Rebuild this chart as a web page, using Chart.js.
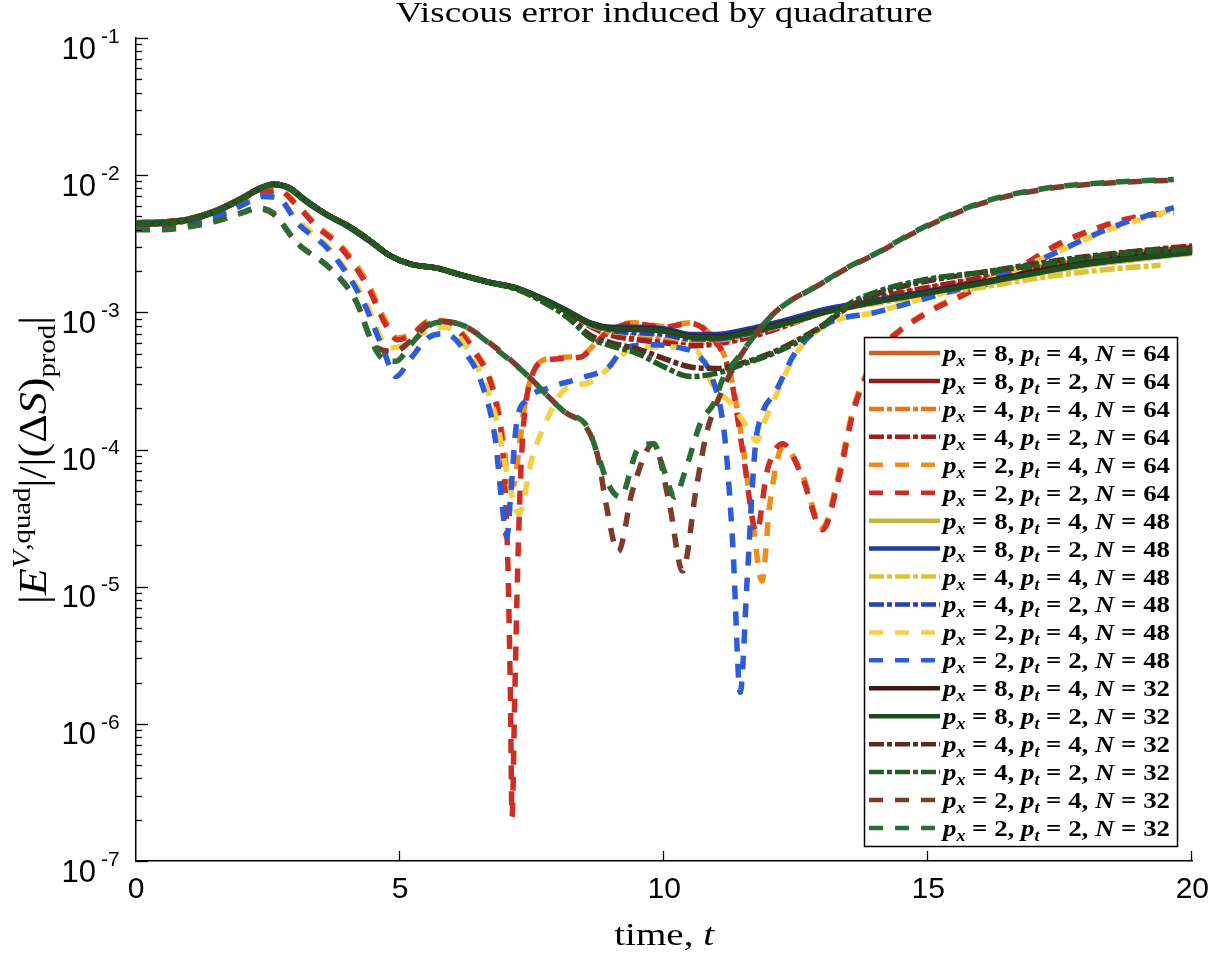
<!DOCTYPE html>
<html>
<head>
<meta charset="utf-8">
<script src="https://cdn.jsdelivr.net/npm/chart.js@4.4.0/dist/chart.umd.min.js"></script>
<style>
  html,body{margin:0;padding:0;background:#fff}
  #wrap{width:1220px;height:953px}
</style>
</head>
<body>
<div id="wrap"><canvas id="c" width="1220" height="953"></canvas></div>
<script>
// time grid shared by the curves that stay close together
const tBand      = [0,0.5,1,1.5,2,2.3,2.6,2.9,3.2,3.6,4.0,4.4,4.8,5.2,5.7,6.2,6.7,7.2,7.7,8.2,8.6,9.0,9.5,10.0,10.5,11.0,11.5,12.0,12.5,13.0,13.5,14.0,15.0,16.0,17.0,18.0,19.0,20.0];
const tBandShort = [0,0.5,1,1.5,2,2.3,2.6,2.9,3.2,3.6,4.0,4.4,4.8,5.2,5.7,6.2,6.7,7.2,7.7,8.2,8.6,9.0,9.5,10.0,10.5,11.0,11.5,12.0,12.5,13.0,13.5,14.0,15.0,16.0,17.0,18.0,18.8,19.4];

// N = 64
const v8_4_64 = [4.5e-3,4.55e-3,4.8e-3,5.5e-3,6.8e-3,7.9e-3,8.6e-3,8.1e-3,6.6e-3,5.2e-3,4.3e-3,3.4e-3,2.6e-3,2.25e-3,2.1e-3,1.85e-3,1.65e-3,1.5e-3,1.25e-3,1.0e-3,8.3e-4,7.7e-4,7.6e-4,7.4e-4,6.7e-4,6.6e-4,7.1e-4,7.9e-4,8.8e-4,1.0e-3,1.1e-3,1.2e-3,1.42e-3,1.68e-3,2.0e-3,2.35e-3,2.65e-3,2.9e-3];
const v8_2_64 = [4.5e-3,4.55e-3,4.8e-3,5.5e-3,6.8e-3,7.9e-3,8.6e-3,8.1e-3,6.6e-3,5.2e-3,4.3e-3,3.4e-3,2.6e-3,2.25e-3,2.1e-3,1.85e-3,1.65e-3,1.5e-3,1.25e-3,1.0e-3,8.2e-4,7.6e-4,7.5e-4,7.3e-4,6.6e-4,6.5e-4,7.0e-4,7.8e-4,8.7e-4,9.9e-4,1.1e-3,1.2e-3,1.43e-3,1.7e-3,2.05e-3,2.4e-3,2.7e-3,2.95e-3];
const v4_4_64 = [4.5e-3,4.55e-3,4.8e-3,5.5e-3,6.8e-3,7.9e-3,8.6e-3,8.1e-3,6.6e-3,5.2e-3,4.3e-3,3.4e-3,2.6e-3,2.25e-3,2.1e-3,1.85e-3,1.65e-3,1.5e-3,1.24e-3,9.8e-4,8.0e-4,7.0e-4,6.6e-4,6.3e-4,6.0e-4,6.1e-4,6.6e-4,7.5e-4,8.6e-4,1.0e-3,1.12e-3,1.25e-3,1.5e-3,1.75e-3,2.1e-3,2.45e-3,2.75e-3,3.0e-3];
const v4_2_64 = [4.5e-3,4.55e-3,4.8e-3,5.5e-3,6.8e-3,7.9e-3,8.6e-3,8.1e-3,6.6e-3,5.2e-3,4.3e-3,3.4e-3,2.6e-3,2.25e-3,2.1e-3,1.85e-3,1.65e-3,1.5e-3,1.23e-3,9.7e-4,7.9e-4,6.8e-4,6.3e-4,6.0e-4,5.7e-4,5.9e-4,6.4e-4,7.3e-4,8.5e-4,1.0e-3,1.13e-3,1.27e-3,1.52e-3,1.78e-3,2.12e-3,2.5e-3,2.8e-3,3.05e-3];

const t2_4_64 = [0,0.5,1,1.5,2,2.4,2.7,3.05,3.4,3.9,4.4,4.7,4.95,5.2,5.6,5.9,6.4,6.8,6.95,7.05,7.15,7.25,7.35,7.5,7.8,8.4,8.9,9.4,10.0,10.5,10.8,11.25,11.5,11.7,11.85,12.0,12.25,12.6,13.0,13.3,13.6,14.15,14.4,15.0,15.6,16.6,17.5,18.5,19.0,19.65];
const v2_4_64 = [4.25e-3,4.3e-3,4.55e-3,5.2e-3,6.4e-3,7.5e-3,7.8e-3,6.1e-3,4.4e-3,3.0e-3,1.6e-3,9e-4,6.5e-4,6.9e-4,8.8e-4,8.5e-4,5.4e-4,2.5e-4,1.2e-4,6e-5,5.5e-5,1e-4,2e-4,3.5e-4,4.6e-4,4.8e-4,7.1e-4,8.4e-4,7.9e-4,8.4e-4,7.4e-4,3.6e-4,1e-4,2.5e-5,1.1e-5,4e-5,1.05e-4,6.8e-5,2.7e-5,6.5e-5,2.1e-4,5.8e-4,7.1e-4,1.02e-3,1.32e-3,2e-3,3.1e-3,4.5e-3,5.0e-3,5.4e-3];
const t2_2_64 = [0,0.5,1,1.5,2,2.4,2.7,3.05,3.4,3.9,4.4,4.7,4.95,5.2,5.6,5.9,6.4,6.8,6.95,7.04,7.09,7.12,7.17,7.23,7.3,7.45,7.8,8.4,8.9,9.4,10.0,10.5,10.8,11.25,11.5,11.75,11.95,12.25,12.6,13.0,13.3,13.6,14.15,14.4,15.0,15.6,16.6,17.5,18.5,19.0,19.65];
const v2_2_64 = [4.2e-3,4.25e-3,4.5e-3,5.1e-3,6.3e-3,7.4e-3,7.7e-3,6.0e-3,4.3e-3,2.9e-3,1.5e-3,8.5e-4,6.3e-4,6.8e-4,8.7e-4,8.3e-4,5.2e-4,2.3e-4,9e-5,1.5e-5,1.5e-6,2.1e-7,1.5e-6,1.5e-5,9e-5,3e-4,4.5e-4,4.7e-4,7e-4,8.3e-4,7.8e-4,8.3e-4,7.2e-4,3.5e-4,9e-5,2.5e-5,7e-5,1.1e-4,6.5e-5,2.6e-5,6e-5,2e-4,5.6e-4,7e-4,1e-3,1.3e-3,2e-3,3.2e-3,4.5e-3,5e-3,5.3e-3];

// N = 48
const v8_4_48 = [4.45e-3,4.5e-3,4.75e-3,5.45e-3,6.7e-3,7.8e-3,8.5e-3,8.0e-3,6.5e-3,5.15e-3,4.25e-3,3.35e-3,2.6e-3,2.25e-3,2.1e-3,1.85e-3,1.65e-3,1.5e-3,1.25e-3,1.0e-3,8.3e-4,7.7e-4,7.6e-4,7.4e-4,6.8e-4,6.7e-4,7.2e-4,8.0e-4,8.9e-4,1.0e-3,1.1e-3,1.2e-3,1.38e-3,1.6e-3,1.9e-3,2.2e-3,2.45e-3,2.7e-3];
const v8_2_48 = [4.45e-3,4.5e-3,4.75e-3,5.45e-3,6.7e-3,7.8e-3,8.5e-3,8.0e-3,6.5e-3,5.15e-3,4.25e-3,3.35e-3,2.6e-3,2.25e-3,2.1e-3,1.86e-3,1.66e-3,1.51e-3,1.26e-3,1.01e-3,8.4e-4,7.8e-4,7.8e-4,7.6e-4,6.9e-4,6.9e-4,7.4e-4,8.2e-4,9.2e-4,1.04e-3,1.13e-3,1.22e-3,1.42e-3,1.65e-3,1.95e-3,2.25e-3,2.5e-3,2.75e-3];
const v4_4_48 = [4.45e-3,4.5e-3,4.75e-3,5.45e-3,6.7e-3,7.8e-3,8.5e-3,8.0e-3,6.5e-3,5.15e-3,4.25e-3,3.35e-3,2.6e-3,2.25e-3,2.1e-3,1.85e-3,1.65e-3,1.5e-3,1.24e-3,9.9e-4,8.1e-4,7.3e-4,7.0e-4,6.8e-4,6.3e-4,6.3e-4,6.8e-4,7.6e-4,8.6e-4,9.9e-4,1.08e-3,1.16e-3,1.33e-3,1.52e-3,1.76e-3,1.98e-3,2.12e-3,2.2e-3];
const v4_2_48 = [4.45e-3,4.5e-3,4.75e-3,5.45e-3,6.7e-3,7.8e-3,8.5e-3,8.0e-3,6.5e-3,5.15e-3,4.25e-3,3.35e-3,2.6e-3,2.25e-3,2.1e-3,1.85e-3,1.65e-3,1.5e-3,1.24e-3,9.9e-4,8.2e-4,7.4e-4,7.1e-4,6.9e-4,6.4e-4,6.4e-4,6.9e-4,7.7e-4,8.8e-4,1.02e-3,1.12e-3,1.22e-3,1.42e-3,1.65e-3,1.95e-3,2.25e-3,2.5e-3,2.75e-3];

const t2_4_48 = [0,0.5,1,1.5,2,2.4,2.7,3.05,3.67,4.3,4.8,5.1,5.55,5.85,6.3,6.8,7.05,7.25,7.5,7.7,8.1,8.6,9.07,9.4,10.0,10.6,10.95,11.25,11.6,11.75,11.9,12.1,12.5,13.1,14.0,15.3,16.3,17.2,18.5,19.65];
const v2_4_48 = [4.3e-3,4.3e-3,4.5e-3,5.0e-3,6.1e-3,7.0e-3,6.7e-3,4.7e-3,2.9e-3,1.3e-3,5.5e-4,5.8e-4,7.5e-4,7.8e-4,5.2e-4,1.8e-4,6e-5,3.4e-5,8.7e-5,1.4e-4,2.7e-4,3.1e-4,4.3e-4,5.5e-4,5.6e-4,5.3e-4,2.8e-4,2.2e-4,1.4e-4,1.15e-4,1.6e-4,2.4e-4,5e-4,8.2e-4,1.0e-3,1.4e-3,1.8e-3,2.5e-3,4.1e-3,5.6e-3];
const t2_2_48 = [0,0.5,1,1.5,2,2.4,2.7,3.05,3.67,4.3,4.67,4.92,5.2,5.55,5.85,6.3,6.55,6.8,6.93,7.02,7.1,7.2,7.4,7.8,8.4,8.95,9.25,9.8,10.3,10.6,10.9,11.15,11.3,11.44,11.57,11.72,11.85,12.1,12.5,13.1,14.0,15.3,16.3,17.2,18.5,19.65];
const v2_2_48 = [4.2e-3,4.2e-3,4.4e-3,4.9e-3,6.0e-3,7.0e-3,6.8e-3,4.5e-3,2.8e-3,1.2e-3,5.5e-4,3.4e-4,4.6e-4,6.6e-4,7.0e-4,4.7e-4,3.0e-4,1.2e-4,4e-5,2.3e-5,5e-5,1.5e-4,2.3e-4,2.8e-4,3.3e-4,4e-4,5.5e-4,5.8e-4,5.5e-4,5e-4,3.4e-4,1.2e-4,2e-5,1.7e-6,1.1e-5,1e-4,1.8e-4,2.6e-4,5.2e-4,8.3e-4,1.0e-3,1.38e-3,1.8e-3,2.5e-3,4.2e-3,5.8e-3];

// N = 32
const v8_4_32 = [4.4e-3,4.45e-3,4.7e-3,5.4e-3,6.7e-3,7.8e-3,8.6e-3,8.1e-3,6.6e-3,5.2e-3,4.3e-3,3.4e-3,2.6e-3,2.25e-3,2.1e-3,1.85e-3,1.65e-3,1.5e-3,1.25e-3,1.0e-3,8.3e-4,7.7e-4,7.6e-4,7.4e-4,6.7e-4,6.6e-4,7.1e-4,7.9e-4,8.8e-4,1.0e-3,1.1e-3,1.2e-3,1.4e-3,1.65e-3,1.97e-3,2.3e-3,2.6e-3,2.85e-3];
const v8_2_32 = [4.45e-3,4.5e-3,4.75e-3,5.45e-3,6.75e-3,7.85e-3,8.6e-3,8.1e-3,6.6e-3,5.2e-3,4.3e-3,3.4e-3,2.6e-3,2.25e-3,2.1e-3,1.85e-3,1.65e-3,1.5e-3,1.25e-3,1.0e-3,8.3e-4,7.6e-4,7.5e-4,7.3e-4,6.6e-4,6.5e-4,7.0e-4,7.8e-4,8.7e-4,9.9e-4,1.09e-3,1.19e-3,1.38e-3,1.62e-3,1.92e-3,2.25e-3,2.5e-3,2.75e-3];
const v4_4_32 = [4.4e-3,4.45e-3,4.7e-3,5.4e-3,6.7e-3,7.8e-3,8.6e-3,8.1e-3,6.6e-3,5.2e-3,4.3e-3,3.4e-3,2.6e-3,2.25e-3,2.1e-3,1.85e-3,1.65e-3,1.48e-3,1.2e-3,9.2e-4,6.8e-4,6.0e-4,5.4e-4,4.6e-4,4.0e-4,3.9e-4,4.3e-4,5.0e-4,6.2e-4,8.0e-4,1.1e-3,1.35e-3,1.7e-3,1.95e-3,2.25e-3,2.55e-3,2.8e-3,2.95e-3];
const v4_2_32 = [4.4e-3,4.45e-3,4.7e-3,5.4e-3,6.7e-3,7.8e-3,8.6e-3,8.1e-3,6.6e-3,5.2e-3,4.3e-3,3.4e-3,2.6e-3,2.25e-3,2.1e-3,1.85e-3,1.65e-3,1.48e-3,1.2e-3,9.0e-4,6.5e-4,5.7e-4,5.0e-4,4.0e-4,3.4e-4,3.6e-4,4.2e-4,4.9e-4,6.0e-4,8.0e-4,1.15e-3,1.4e-3,1.75e-3,1.95e-3,2.2e-3,2.5e-3,2.75e-3,2.9e-3];

const t2_4_32 = [0,0.5,1,1.5,2,2.3,2.6,3.05,3.67,4.17,4.48,4.67,4.9,5.2,5.55,5.8,6.2,6.87,7.4,8.1,8.55,8.75,8.9,9.13,9.4,9.8,10.1,10.35,10.6,10.8,11.0,11.4,12.1,12.95,13.45,14.1,14.7,16.0,17.2,18.5,19.65];
const v2_4_32 = [4.05e-3,4.05e-3,4.25e-3,4.6e-3,5.3e-3,5.7e-3,5.2e-3,3.2e-3,2.1e-3,1.2e-3,6e-4,5.3e-4,5.2e-4,6.2e-4,8.2e-4,8.6e-4,8.0e-4,5.3e-4,3.5e-4,1.9e-4,1.4e-4,8.7e-5,4e-5,1.8e-5,5e-5,1.1e-4,4e-5,1.3e-5,5e-5,1.3e-4,2.2e-4,4.5e-4,1e-3,1.6e-3,2.08e-3,2.78e-3,3.75e-3,6.2e-3,7.9e-3,8.8e-3,9.2e-3];
const t2_2_32 = [0,0.5,1,1.5,2,2.3,2.6,3.05,3.67,4.17,4.48,4.7,4.92,5.2,5.55,5.8,6.2,6.87,7.4,8.1,8.55,8.75,8.95,9.17,9.5,9.8,10.0,10.2,10.4,10.7,10.95,11.1,11.4,12.1,12.95,13.45,14.1,14.7,16.0,17.2,18.5,19.65];
const v2_2_32 = [4.0e-3,4.0e-3,4.2e-3,4.6e-3,5.3e-3,5.8e-3,5.3e-3,3.2e-3,2.1e-3,1.2e-3,5.9e-4,4.5e-4,4.4e-4,5.8e-4,8.0e-4,8.5e-4,8.0e-4,5.2e-4,3.5e-4,1.9e-4,1.45e-4,9e-5,5.5e-5,4.5e-5,1e-4,1.1e-4,7e-5,4.5e-5,7e-5,1.6e-4,2.2e-4,3.2e-4,4.7e-4,1e-3,1.6e-3,2.1e-3,2.8e-3,3.8e-3,6.3e-3,8e-3,8.9e-3,9.3e-3];

const xTicks = [0,5,10,15,20];
const yDecades = [-7,-6,-5,-4,-3,-2,-1];

const SOLID = [], DASHDOT = [15,3,5,3], DASHED = [14,12];

const series = [
  {px:8,pt:4,N:64,color:'#d4621e',dash:SOLID,  t:tBand,   v:v8_4_64},
  {px:8,pt:2,N:64,color:'#8e1c1c',dash:SOLID,  t:tBand,   v:v8_2_64},
  {px:4,pt:4,N:64,color:'#ec7418',dash:DASHDOT,t:tBand,   v:v4_4_64},
  {px:4,pt:2,N:64,color:'#a01f1f',dash:DASHDOT,t:tBand,   v:v4_2_64},
  {px:2,pt:4,N:64,color:'#f08c1c',dash:DASHED, t:t2_4_64, v:v2_4_64},
  {px:2,pt:2,N:64,color:'#cc2e26',dash:DASHED, t:t2_2_64, v:v2_2_64},
  {px:8,pt:4,N:48,color:'#c4b43c',dash:SOLID,  t:tBand,   v:v8_4_48},
  {px:8,pt:2,N:48,color:'#203c9c',dash:SOLID,  t:tBand,   v:v8_2_48},
  {px:4,pt:4,N:48,color:'#dcc436',dash:DASHDOT,t:tBandShort,v:v4_4_48},
  {px:4,pt:2,N:48,color:'#2443b8',dash:DASHDOT,t:tBand,   v:v4_2_48},
  {px:2,pt:4,N:48,color:'#f4d04a',dash:DASHED, t:t2_4_48, v:v2_4_48},
  {px:2,pt:2,N:48,color:'#2c5cd8',dash:DASHED, t:t2_2_48, v:v2_2_48},
  {px:8,pt:4,N:32,color:'#3e1812',dash:SOLID,  t:tBand,   v:v8_4_32},
  {px:8,pt:2,N:32,color:'#1e4c1e',dash:SOLID,  t:tBand,   v:v8_2_32},
  {px:4,pt:4,N:32,color:'#5c2a1e',dash:DASHDOT,t:tBand,   v:v4_4_32},
  {px:4,pt:2,N:32,color:'#205c24',dash:DASHDOT,t:tBand,   v:v4_2_32},
  {px:2,pt:4,N:32,color:'#7c3c2c',dash:DASHED, t:t2_4_32, v:v2_4_32},
  {px:2,pt:2,N:32,color:'#2c6c36',dash:DASHED, t:t2_2_32, v:v2_2_32}
];

const SERIF = '"Liberation Serif", "Times New Roman", serif';
const SANS = '"Liberation Sans", Arial, sans-serif';

function runsWidth(ctx, runs){
  let w = 0;
  runs.forEach(r => { ctx.font = r[1]; w += ctx.measureText(r[0]).width; });
  return w;
}
function drawRuns(ctx, runs, x, y){
  let cx = x;
  runs.forEach(r => { ctx.font = r[1]; ctx.fillText(r[0], cx, y + r[2]); cx += ctx.measureText(r[0]).width; });
}
// draw runs centred on cx, squeezed or stretched to width w
function drawRunsFit(ctx, runs, cx, y, w){
  const nat = runsWidth(ctx, runs);
  ctx.save(); ctx.translate(cx - w / 2, y); ctx.scale(w / nat, 1);
  drawRuns(ctx, runs, 0, 0); ctx.restore();
}

function legendRuns(s){
  const it = `italic bold 24px ${SERIF}`, rm = `bold 24px ${SERIF}`, sub = `italic bold 16px ${SERIF}`;
  return [['p',it,0],['x',sub,5],[' = '+s.px+', ',rm,0],['p',it,0],['t',sub,5],[' = '+s.pt+', ',rm,0],['N',it,0],[' = '+s.N,rm,0]];
}

const decorations = {
  id: 'decorations',
  afterDraw(chart){
    const {ctx, chartArea:a, scales:{x, y}} = chart;
    const midX = (a.left + a.right) / 2;
    ctx.save();
    ctx.strokeStyle = '#000';
    ctx.fillStyle = '#000';
    ctx.lineWidth = 1.3;
    ctx.setLineDash([]);

    // inward ticks on the log axis
    yDecades.forEach(k => {
      const py = Math.round(y.getPixelForValue(Math.pow(10, k))) + 0.5;
      ctx.beginPath(); ctx.moveTo(a.left, py); ctx.lineTo(a.left + 12, py); ctx.stroke();
      if (k < -1) {
        for (let m = 2; m <= 9; m++) {
          const pm = Math.round(y.getPixelForValue(m * Math.pow(10, k))) + 0.5;
          ctx.beginPath(); ctx.moveTo(a.left, pm); ctx.lineTo(a.left + 6, pm); ctx.stroke();
        }
      }
    });
    xTicks.forEach(v => {
      if (v === 0) return;
      const px = Math.round(x.getPixelForValue(v)) - 0.5;
      ctx.beginPath(); ctx.moveTo(px, a.bottom); ctx.lineTo(px, a.bottom - 10); ctx.stroke();
    });

    // y tick labels 10^k
    ctx.textBaseline = 'middle';
    yDecades.forEach(k => {
      const py = y.getPixelForValue(Math.pow(10, k));
      ctx.font = `31px ${SANS}`; ctx.textAlign = 'right';
      ctx.fillText('10', 96, py + 12);
      ctx.font = `21px ${SANS}`; ctx.textAlign = 'left';
      ctx.fillText(String(k), 101, py - 1);
    });

    // title and axis labels
    ctx.textBaseline = 'alphabetic';
    ctx.textAlign = 'left';
    drawRunsFit(ctx, [['Viscous error induced by quadrature', `29px ${SERIF}`, 0]], midX, 22, 537);
    drawRunsFit(ctx, [['time, ', `32px ${SERIF}`, 0], ['t', `italic 32px ${SERIF}`, 0]], midX, 945, 100);

    const yl = [['|', `40px ${SERIF}`, 0], ['E', `italic 40px ${SERIF}`, 0], ['V', `italic 26px ${SERIF}`, -16], [',quad', `26px ${SERIF}`, -16],
                ['|/|(Δ', `40px ${SERIF}`, 0], ['S', `italic 40px ${SERIF}`, 0], [')', `40px ${SERIF}`, 0], ['prod', `26px ${SERIF}`, 9], ['|', `40px ${SERIF}`, 0]];
    ctx.save(); ctx.translate(46, 0); ctx.rotate(-Math.PI / 2);
    drawRunsFit(ctx, yl, -460, 0, 288); ctx.restore();

    // legend box
    const L = {x: 864.5, y: 337.5, w: 313, h: 509, row0: 353, dy: 27.94};
    ctx.fillStyle = '#fff'; ctx.fillRect(L.x, L.y, L.w, L.h);
    ctx.strokeStyle = '#000'; ctx.lineWidth = 1.5; ctx.strokeRect(L.x, L.y, L.w, L.h);
    chart.data.datasets.forEach((ds, i) => {
      const yc = L.row0 + i * L.dy;
      ctx.strokeStyle = ds.borderColor; ctx.lineWidth = 4.5; ctx.setLineDash(ds.borderDash); ctx.lineCap = 'butt';
      ctx.beginPath(); ctx.moveTo(869, yc); ctx.lineTo(940, yc); ctx.stroke();
      ctx.setLineDash([]);
      ctx.fillStyle = '#000';
      drawRunsFit(ctx, legendRuns(series[i]), 943 + 227 / 2, yc + 8, 227);
    });
    ctx.restore();
  }
};

const datasets = series.map((s, i) => ({
  label: `px=${s.px}, pt=${s.pt}, N=${s.N}`,
  data: s.t.map((t, j) => ({x: t, y: s.v[j]})),
  borderColor: s.color,
  borderDash: s.dash,
  borderWidth: 5.5,
  borderCapStyle: 'butt',
  pointRadius: 0,
  fill: false,
  cubicInterpolationMode: 'monotone',
  order: -i
}));

new Chart(document.getElementById('c'), {
  type: 'line',
  data: {datasets},
  options: {
    responsive: false,
    animation: false,
    devicePixelRatio: 1,
    layout: {padding: {top: 38, right: 22, left: 0, bottom: 0}},
    plugins: {legend: {display: false}, tooltip: {enabled: false}},
    scales: {
      x: {
        type: 'linear', min: 0, max: 20,
        afterBuildTicks(s){ s.ticks = xTicks.map(v => ({value: v})); },
        afterFit(s){ s.height = 92; },
        ticks: {color: '#000', font: {family: SANS, size: 30}, padding: 11, maxRotation: 0},
        grid: {display: false, drawTicks: false},
        border: {display: true, color: '#000', width: 1.5}
      },
      y: {
        type: 'logarithmic', min: 1e-7, max: 1e-1,
        afterFit(s){ s.width = 136; },
        ticks: {display: false},
        grid: {display: false, drawTicks: false},
        border: {display: true, color: '#000', width: 1.5}
      }
    }
  },
  plugins: [decorations]
});
</script>
</body>
</html>
